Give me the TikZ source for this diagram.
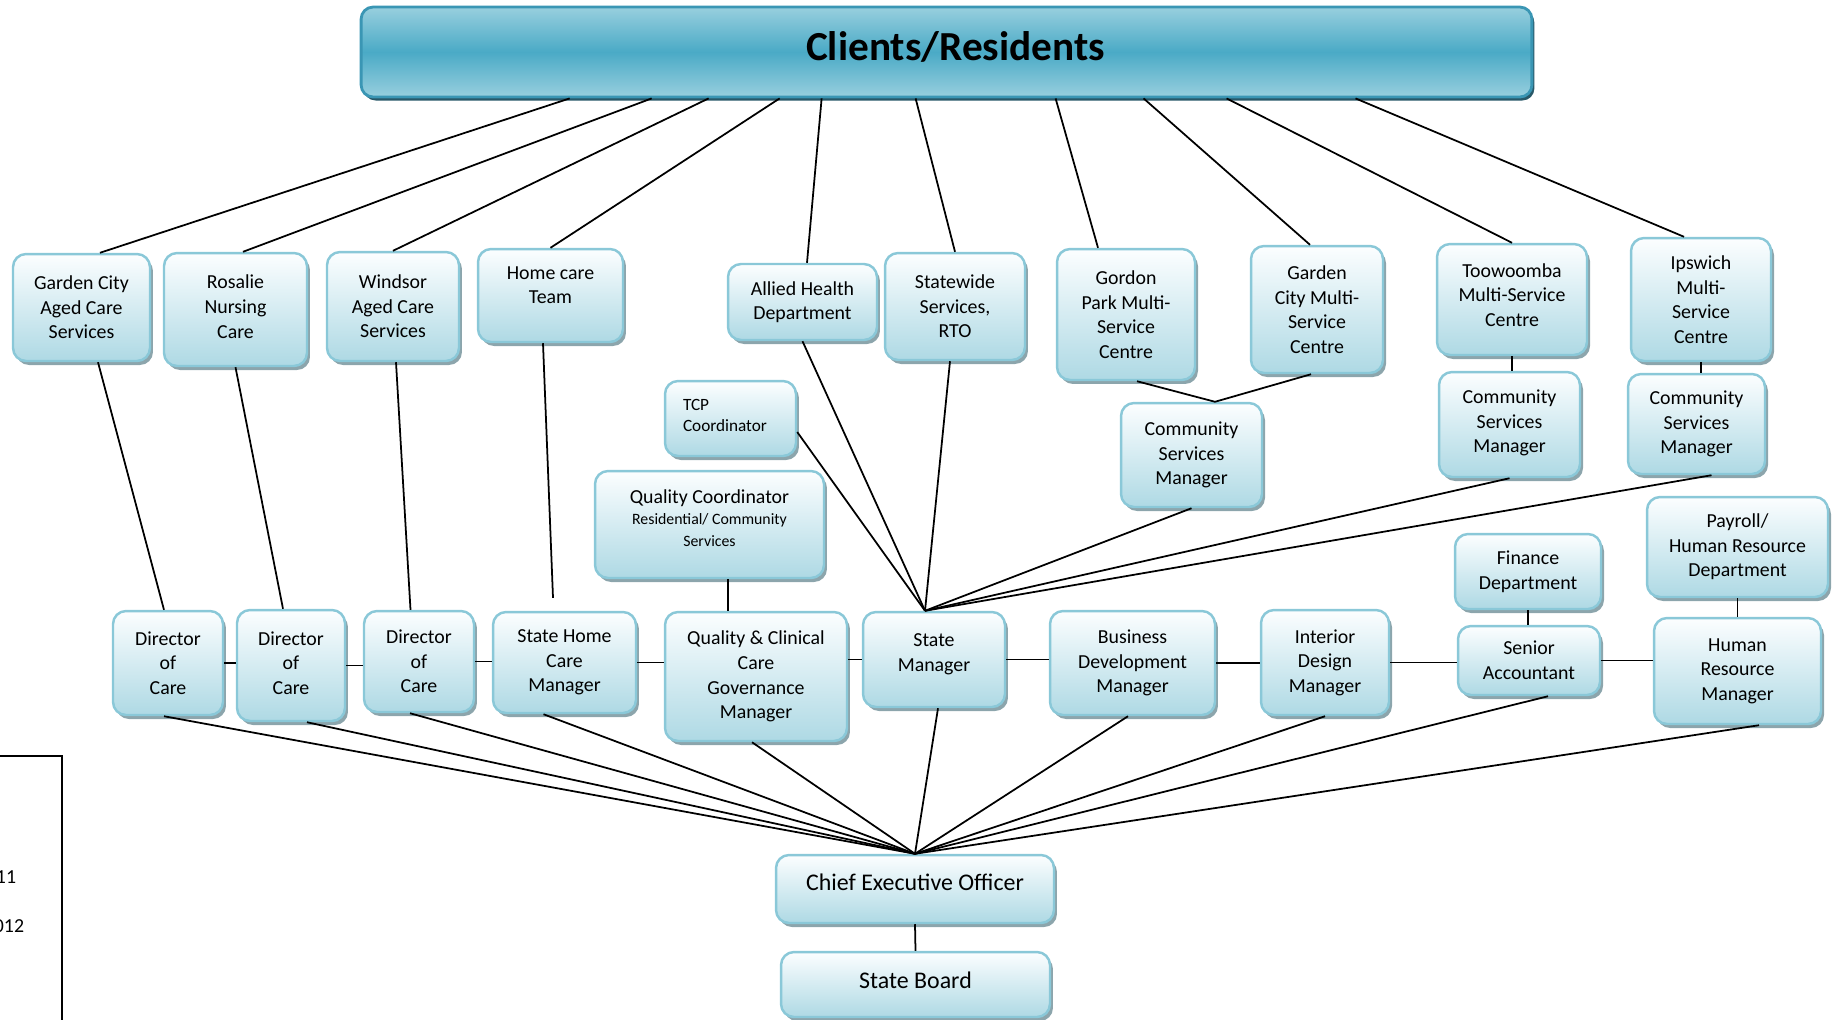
\documentclass[tikz,border=0pt]{standalone}
\usepackage{fontspec}
\setmainfont{Carlito}
\usepackage{tikz}
\usetikzlibrary{shadows}

\definecolor{boxedge}{RGB}{138,200,216}
\definecolor{boxtop}{RGB}{252,254,255}
\definecolor{boxbottom}{RGB}{174,217,228}
\definecolor{boxshadow}{RGB}{140,165,172}
\definecolor{bannermid}{RGB}{74,170,198}
\definecolor{bannerlight}{RGB}{152,207,222}
\definecolor{banneredge}{RGB}{58,150,180}
\definecolor{bannershadow}{RGB}{40,88,104}

\begin{document}
\begin{tikzpicture}[x=0.02cm, y=-0.02cm, line width=1pt,
    orgbox/.style={draw=boxedge, line width=1.4pt, rounded corners=0.26cm, top color=boxtop, bottom color=boxbottom, align=center, inner sep=1pt, font=\fontsize{11.3}{14}\selectfont, drop shadow={shadow xshift=0.06cm, shadow yshift=-0.08cm, fill=boxshadow, opacity=1}},
    bannerbox/.style={draw=banneredge, line width=1.6pt, rounded corners=0.24cm, top color=bannerlight, bottom color=bannerlight, middle color=bannermid, font=\bfseries\fontsize{23.5}{28}\selectfont, drop shadow={shadow xshift=0.05cm, shadow yshift=-0.07cm, fill=bannershadow, opacity=1}},
    bigbox/.style={orgbox, font=\fontsize{13.6}{16}\selectfont}]
        \useasboundingbox (0,0) rectangle (1839,1019);

        % Top
        \node (banner) [bannerbox, minimum width=23.42cm, minimum height=1.8cm] at (946.5,52) {\hspace*{0.36cm}\raisebox{0.24cm}{Clients/Residents}};

        % Services
        \node (gcacs) [orgbox, minimum width=2.74cm, minimum height=2.14cm] at (81.5,307.5) {Garden City\\Aged Care\\Services};
        \node (rosalie) [orgbox, minimum width=2.86cm, minimum height=2.26cm] at (235.5,309.5) {Rosalie\\Nursing\\Care\rule[-0.12cm]{0pt}{0.12cm}};
        \node (windsor) [orgbox, minimum width=2.64cm, minimum height=2.18cm] at (393,306.5) {Windsor\\Aged Care\\Services};
        \node (homecare) [orgbox, minimum width=2.9cm, minimum height=1.86cm] at (550.5,295.5) {Home care\\Team\rule[-0.42cm]{0pt}{0.42cm}};
        \node (allied) [orgbox, minimum width=2.98cm, minimum height=1.52cm] at (802.5,302) {Allied Health\\Department};
        \node (statewide) [orgbox, minimum width=2.8cm, minimum height=2.14cm] at (955,306.5) {Statewide\\Services,\\RTO};
        \node (gordon) [orgbox, minimum width=2.76cm, minimum height=2.62cm] at (1126,314.5) {Gordon\\Park Multi-\\Service\\Centre};
        \node (gcmsc) [orgbox, minimum width=2.64cm, minimum height=2.54cm] at (1317,309.5) {Garden\\City Multi-\\Service\\Centre};
        \node (toowoomba) [orgbox, minimum width=3cm, minimum height=2.22cm] at (1512,299.5) {Toowoomba\\Multi-Service\\Centre\rule[-0.19cm]{0pt}{0.19cm}};
        \node (ipswich) [orgbox, minimum width=2.8cm, minimum height=2.46cm] at (1701,299.5) {Ipswich\\Multi-\\Service\\Centre};

        % Coordinators and departments
        \node (csmtw) [orgbox, minimum width=2.82cm, minimum height=2.1cm] at (1509.5,424.5) {Community\\Services\\Manager\rule[-0.12cm]{0pt}{0.12cm}};
        \node (csmip) [orgbox, minimum width=2.74cm, minimum height=2cm] at (1696.5,424) {Community\\Services\\Manager};
        \node (csmmid) [orgbox, minimum width=2.82cm, minimum height=2.08cm] at (1191.5,455) {Community\\Services\\Manager};
        \node (tcp) [orgbox, minimum width=2.62cm, minimum height=1.5cm, text width=1.9cm, align=left, font=\fontsize{9.8}{12}\selectfont] at (730.5,418.5) {TCP\\Coordinator\rule[-0.12cm]{0pt}{0.12cm}};
        \node (qc) [orgbox, minimum width=4.58cm, minimum height=2.14cm] at (709.5,524.5) {Quality Coordinator\\[-2pt]\fontsize{9}{11.4}\selectfont Residential/ Community\\[-1.3pt]\fontsize{9}{11.4}\selectfont Services\rule[-0.26cm]{0pt}{0.26cm}};
        \node (finance) [orgbox, minimum width=2.92cm, minimum height=1.5cm] at (1528,571.5) {Finance\\Department};
        \node (payroll) [orgbox, minimum width=3.62cm, minimum height=2cm] at (1737.5,547) {Payroll/\\Human Resource\\Department};

        % Managers
        \node (dir1) [orgbox, minimum width=2.2cm, minimum height=2.08cm] at (168,663) {Director\\of\\Care};
        \node (dir2) [orgbox, minimum width=2.16cm, minimum height=2.22cm] at (291,665.5) {Director\\of\\Care\rule[-0.1cm]{0pt}{0.1cm}};
        \node (dir3) [orgbox, minimum width=2.2cm, minimum height=2.02cm] at (419,661.5) {Director\\of\\Care};
        \node (shcm) [orgbox, minimum width=2.86cm, minimum height=2.02cm] at (564.5,662.5) {State Home\\Care\\Manager};
        \node (qccg) [orgbox, minimum width=3.64cm, minimum height=2.58cm] at (756,676.5) {Quality \& Clinical\\Care\\Governance\\Manager};
        \node (sm) [orgbox, minimum width=2.84cm, minimum height=1.9cm] at (934,659.5) {State\\Manager\rule[-0.28cm]{0pt}{0.28cm}};
        \node (bdm) [orgbox, minimum width=3.3cm, minimum height=2.08cm] at (1132.5,663) {Business\\Development\\Manager};
        \node (idm) [orgbox, minimum width=2.56cm, minimum height=2.1cm] at (1325,662.5) {Interior\\Design\\Manager};
        \node (sa) [orgbox, minimum width=2.84cm, minimum height=1.38cm] at (1529,660.5) {Senior\\Accountant};
        \node (hrm) [orgbox, minimum width=3.34cm, minimum height=2.12cm] at (1737.5,671) {Human\\Resource\\Manager};

        % Board
        \node (ceo) [bigbox, minimum width=5.56cm, minimum height=1.36cm] at (915,889) {Chief Executive Officer\rule[-0.28cm]{0pt}{0.28cm}};
        \node (board) [bigbox, minimum width=5.38cm, minimum height=1.3cm] at (915.5,984.5) {State Board\rule[-0.19cm]{0pt}{0.19cm}};

        % Side panel (cut off)
        \draw[line width=1pt] (-10,756) rectangle (62,1040);
        \node (yearone) [anchor=east, inner sep=0pt, font=\fontsize{11.3}{13.4}\selectfont] at (17,877) {11};
        \node (yeartwo) [anchor=east, inner sep=0pt, font=\fontsize{11.3}{13.4}\selectfont] at (25,926) {012};

        % Lines from clients
        \draw ([xshift=4.2cm]banner.south west) -- ([xshift=0.37cm]gcacs.north);
        \draw ([xshift=5.84cm]banner.south west) -- ([xshift=0.15cm]rosalie.north);
        \draw ([xshift=6.98cm]banner.south west) -- (windsor.north);
        \draw ([xshift=8.4cm]banner.south west) -- (homecare.north);
        \draw ([xshift=9.24cm]banner.south west) -- ([xshift=0.09cm]allied.north);
        \draw ([xshift=11.12cm]banner.south west) -- (statewide.north);
        \draw ([xshift=13.92cm]banner.south west) -- ([xshift=-0.56cm]gordon.north);
        \draw ([xshift=15.68cm]banner.south west) -- ([xshift=-0.14cm]gcmsc.north);
        \draw ([xshift=17.34cm]banner.south west) -- (toowoomba.north);
        \draw ([xshift=19.92cm]banner.south west) -- ([xshift=-0.34cm]ipswich.north);

        % Services down to managers
        \draw ([xshift=0.33cm]gcacs.south) -- ([xshift=-0.08cm]dir1.north);
        \draw (rosalie.south) -- ([xshift=-0.16cm]dir2.north);
        \draw ([xshift=0.06cm]windsor.south) -- ([xshift=-0.17cm]dir3.north);
        \coordinate (shcmtop) at ([xshift=-0.23cm, yshift=0.26cm]shcm.north);
        \draw ([xshift=-0.15cm]homecare.south) -- (shcmtop);

        % Into state manager
        \coordinate (smtop) at ([xshift=-0.18cm]sm.north);
        \draw (allied.south) -- (smtop);
        \draw ([xshift=-0.1cm]statewide.south) -- (smtop);
        \draw ([yshift=-0.27cm]tcp.east) -- (smtop);
        \draw (csmmid.south) -- (smtop);
        \draw (csmtw.south) -- (smtop);
        \draw ([xshift=0.3cm]csmip.south) -- (smtop);
        \draw ([xshift=0.22cm]gordon.south) -- ([xshift=0.47cm]csmmid.north) -- ([xshift=-0.12cm]gcmsc.south);

        % Short links
        \draw (toowoomba.south) -- (toowoomba.south |- csmtw.north);
        \draw (ipswich.south) -- (ipswich.south |- csmip.north);
        \draw ([xshift=0.37cm]qc.south) -- ([xshift=-0.56cm]qccg.north);
        \draw (finance.south) -- (finance.south |- sa.north);
        \draw (payroll.south) -- (hrm.north);
        \draw (ceo.south) -- (board.north);

        % Manager row
        \draw (dir1.east) -- (dir1.east -| dir2.west);
        \draw (dir2.east) -- (dir2.east -| dir3.west);
        \draw (dir3.east) -- (dir3.east -| shcm.west);
        \draw (shcm.east) -- (shcm.east -| qccg.west);
        \draw (qccg.east |- sm.west) -- (sm.west);
        \draw (sm.east) -- (sm.east -| bdm.west);
        \draw (bdm.east) -- (bdm.east -| idm.west);
        \draw (idm.east) -- (idm.east -| sa.west);
        \draw (sa.east) -- (sa.east -| hrm.west);

        % Managers to CEO
        \draw ([xshift=-0.08cm]dir1.south) -- (ceo.north);
        \draw ([xshift=0.32cm]dir2.south) -- (ceo.north);
        \draw ([xshift=-0.18cm]dir3.south) -- (ceo.north);
        \draw ([xshift=-0.42cm]shcm.south) -- (ceo.north);
        \draw ([xshift=-0.08cm]qccg.south) -- (ceo.north);
        \draw ([xshift=0.08cm]sm.south) -- (ceo.north);
        \draw ([xshift=-0.09cm]bdm.south) -- (ceo.north);
        \draw (idm.south) -- (ceo.north);
        \draw ([xshift=0.38cm]sa.south) -- (ceo.north);
        \draw ([xshift=0.43cm]hrm.south) -- (ceo.north);
    \end{tikzpicture}
\end{document}
